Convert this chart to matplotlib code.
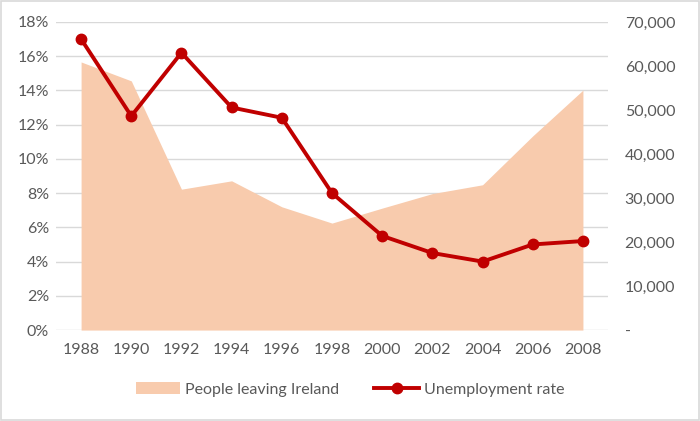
import matplotlib.pyplot as plt
from matplotlib.ticker import FuncFormatter
from matplotlib.patches import Rectangle

years = [1988, 1990, 1992, 1994, 1996, 1998, 2000, 2002, 2004, 2006, 2008]
unemployment = [17.0, 12.5, 16.2, 13.0, 12.4, 8.0, 5.5, 4.5, 4.0, 5.0, 5.2]
leaving = [60900, 56600, 32000, 33900, 28000, 24300, 27700, 31000, 33000, 44100, 54500]

plt.rcParams['font.family'] = ['Lato', 'DejaVu Sans']
grey = '#595959'

fig = plt.figure(figsize=(7, 4.21), dpi=100)
fig.patches.append(Rectangle((0.002, 0.003), 0.996, 0.994, transform=fig.transFigure,
                             fill=False, edgecolor='#D9D9D9', linewidth=1.2))

ax = fig.add_axes([0.08, 0.216, 0.7886, 0.732])
ax2 = ax.twinx()

# area on the right axis, drawn behind
ax2.fill_between(years, leaving, 0, color='#F8CBAD', linewidth=0, zorder=1,
                 label='People leaving Ireland')
ax2.set_ylim(0, 70000)
ax2.set_yticks(range(0, 70001, 10000))
ax2.yaxis.set_major_formatter(FuncFormatter(lambda v, p: '-' if v == 0 else f'{int(v):,}'))

# gridlines follow the left axis but sit under the area
for v in range(0, 19, 2):
    ax2.axhline(v / 18 * 70000, color='#D9D9D9', linewidth=1, zorder=0)

ax.set_zorder(ax2.get_zorder() + 1)
ax.patch.set_visible(False)
ax.plot(years, unemployment, color='#C00000', linewidth=2.8, marker='o', markersize=7.5,
        label='Unemployment rate')
ax.set_ylim(0, 18)
ax.set_yticks(range(0, 19, 2))
ax.yaxis.set_major_formatter(FuncFormatter(lambda v, p: f'{int(v)}%'))
ax.set_xlim(1987, 2009)
ax.set_xticks(years)

for a in (ax, ax2):
    for s in a.spines.values():
        s.set_visible(False)
    a.tick_params(length=0, colors=grey, labelsize=11.5)
ax.tick_params(axis='y', pad=5)
ax.tick_params(axis='x', pad=9)
ax2.tick_params(axis='y', pad=12)

h1, l1 = ax2.get_legend_handles_labels()
h2, l2 = ax.get_legend_handles_labels()
fig.legend(h1 + h2, l1 + l2, loc='center', bbox_to_anchor=(0.5, 0.075), ncol=2,
           frameon=False, fontsize=11.5, labelcolor=grey, handlelength=2.8,
           handletextpad=0.3, columnspacing=2.2)

fig.savefig('out.png', dpi=100)
